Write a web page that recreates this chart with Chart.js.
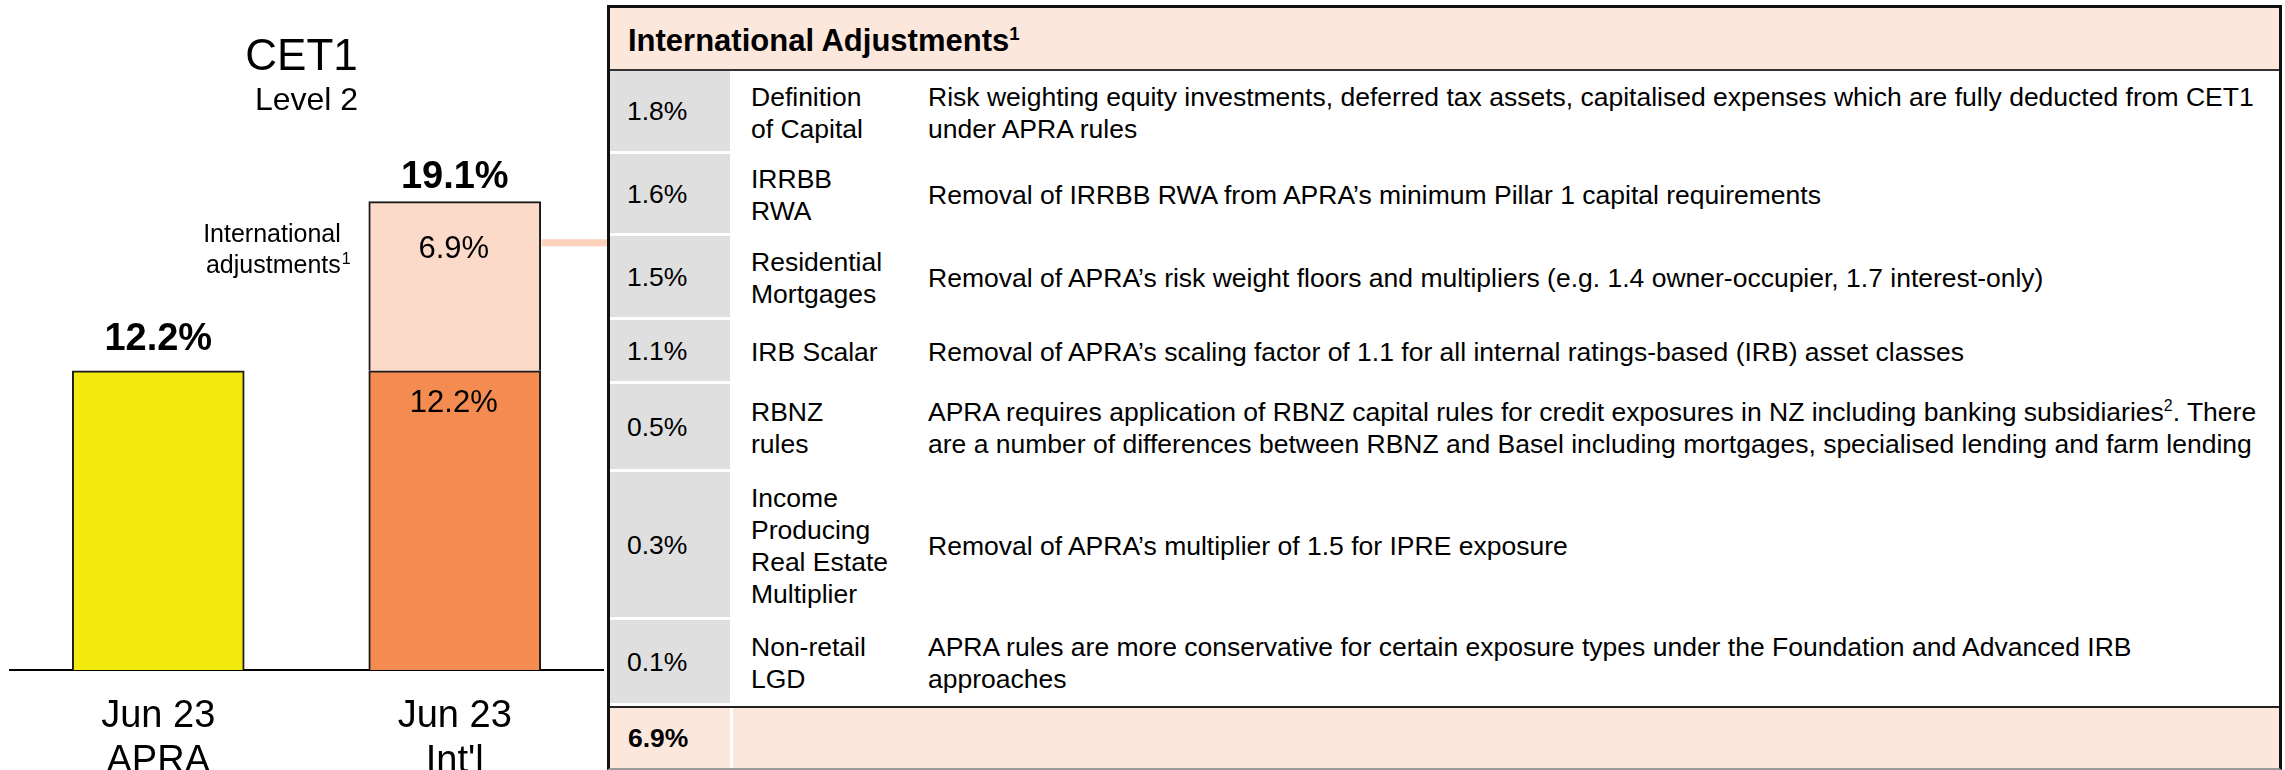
<!DOCTYPE html>
<html lang="en">
<head>
    <meta charset="UTF-8">
    <title>CET1 Level 2 - International Adjustments</title>
    <script src="https://cdn.jsdelivr.net/npm/chart.js"></script>
    <style>
        body {
            margin: 0;
            width: 2285px;
            height: 770px;
            overflow: hidden;
            background: #fff;
            color: #000;
            font-family: "Liberation Sans", Arial, sans-serif;
        }

        /* left: the stacked bars */
        .chart-box {
            position: absolute;
            left: 0;
            top: 0;
            width: 607px;
            height: 770px;
        }

        /* right: adjustments table */
        .adj-table {
            position: absolute;
            left: 607px;
            top: 5px;
            width: 1675px;
            height: 765px;
            box-sizing: border-box;
            border: 3px solid #111;
            border-bottom: 2px solid #999;
        }

        .adj-head {
            height: 63px;
            box-sizing: border-box;
            padding: 5px 0 0 18px;
            line-height: 56px;
            background: #FCE7DC;
            border-bottom: 2px solid #333;
            font-weight: bold;
            font-size: 31px;
        }

        .adj-head sup, .adj-row sup {
            font-size: 0.6em;
            line-height: 0;
        }

        .adj-row {
            display: flex;
            font-size: 26.5px;
            line-height: 32px;
        }

        .adj-row .pct {
            width: 120px;
            box-sizing: border-box;
            padding-left: 17px;
            background: #DFDFDF;
            border-bottom: 3px solid #fff;
            display: flex;
            align-items: center;
        }

        .adj-row:last-of-type .pct {
            border-bottom: none;
        }

        .adj-row .name {
            width: 198px;
            box-sizing: border-box;
            padding-left: 21px;
            display: flex;
            align-items: center;
        }

        .adj-row .note {
            flex: 1;
            display: flex;
            align-items: center;
            white-space: nowrap;
        }

        .adj-total {
            height: 62px;
            box-sizing: border-box;
            border-top: 2px solid #222;
            background: #FCE7DC;
            display: flex;
            font-size: 26.5px;
            font-weight: bold;
        }

        .adj-total .pct {
            width: 123px;
            box-sizing: border-box;
            padding-left: 18px;
            border-right: 3px solid #fff;
            display: flex;
            align-items: center;
        }
    </style>
</head>
<body>

    <div class="chart-box">
        <canvas id="cetChart" width="607" height="770"></canvas>
    </div>

    <div class="adj-table" id="adjTable">
        <div class="adj-head">International Adjustments<sup>1</sup></div>
    </div>

    <script>
        // bar chart data
        const categories = [['Jun 23', 'APRA'], ['Jun 23', "Int'l"]];
        const baseCET1 = [12.2, 12.2];
        const intlAdjust = [null, 6.9];
        const yMax = 25;

        // table data
        const adjPct = [1.8, 1.6, 1.5, 1.1, 0.5, 0.3, 0.1];
        const adjNames = [
            ['Definition', 'of Capital'],
            ['IRRBB', 'RWA'],
            ['Residential', 'Mortgages'],
            ['IRB Scalar'],
            ['RBNZ', 'rules'],
            ['Income', 'Producing', 'Real Estate', 'Multiplier'],
            ['Non-retail', 'LGD']
        ];
        const adjNotes = [
            ['Risk weighting equity investments, deferred tax assets, capitalised expenses which are fully deducted from CET1', 'under APRA rules'],
            ['Removal of IRRBB RWA from APRA\u2019s minimum Pillar 1 capital requirements'],
            ['Removal of APRA\u2019s risk weight floors and multipliers (e.g. 1.4 owner-occupier, 1.7 interest-only)'],
            ['Removal of APRA\u2019s scaling factor of 1.1 for all internal ratings-based (IRB) asset classes'],
            ['APRA requires application of RBNZ capital rules for credit exposures in NZ including banking subsidiaries^2. There', 'are a number of differences between RBNZ and Basel including mortgages, specialised lending and farm lending'],
            ['Removal of APRA\u2019s multiplier of 1.5 for IPRE exposure'],
            ['APRA rules are more conservative for certain exposure types under the Foundation and Advanced IRB', 'approaches']
        ];

        // row heights of the table body, px
        const rowHeights = [83, 82, 84, 64, 88, 148, 86];

        // ---- table ----
        function addLines(el, lines) {
            lines.forEach((line, i) => {
                if (i > 0) el.appendChild(document.createElement('br'));
                const parts = line.split('^');
                el.appendChild(document.createTextNode(parts[0]));
                if (parts.length > 1) {
                    const sup = document.createElement('sup');
                    sup.textContent = parts[1][0];
                    el.appendChild(sup);
                    el.appendChild(document.createTextNode(parts[1].slice(1)));
                }
            });
        }

        const table = document.getElementById('adjTable');
        adjPct.forEach((v, i) => {
            const row = document.createElement('div');
            row.className = 'adj-row';
            row.style.height = rowHeights[i] + 'px';

            const pct = document.createElement('div');
            pct.className = 'pct';
            pct.textContent = v.toFixed(1) + '%';

            const name = document.createElement('div');
            name.className = 'name';
            const nameTxt = document.createElement('div');
            addLines(nameTxt, adjNames[i]);
            name.appendChild(nameTxt);

            const note = document.createElement('div');
            note.className = 'note';
            const noteTxt = document.createElement('div');
            addLines(noteTxt, adjNotes[i]);
            note.appendChild(noteTxt);

            row.append(pct, name, note);
            table.appendChild(row);
        });

        const total = document.createElement('div');
        total.className = 'adj-total';
        const totalPct = document.createElement('div');
        totalPct.className = 'pct';
        totalPct.textContent = adjPct.reduce((a, b) => a + b, 0).toFixed(1) + '%';
        total.appendChild(totalPct);
        table.appendChild(total);

        // ---- chart ----
        const FONT = '"Liberation Sans", Arial, sans-serif';
        const totalGap = [21, 14];        // space between bar top and total label
        const insideOffset = [41, 56];    // baseline below segment top, per dataset

        const labelsPlugin = {
            id: 'cetLabels',
            afterDraw(chart) {
                const { ctx, chartArea, scales: { x, y } } = chart;
                const mid = (chartArea.left + chartArea.right) / 2;
                ctx.save();
                ctx.fillStyle = '#000';
                ctx.textAlign = 'center';
                ctx.textBaseline = 'alphabetic';

                ctx.font = '44px ' + FONT;
                ctx.fillText('CET1', mid - 5, 70);
                ctx.font = '32px ' + FONT;
                ctx.fillText('Level 2', mid, 110);

                categories.forEach((cat, i) => {
                    const bx = x.getPixelForValue(i);
                    const sum = baseCET1[i] + (intlAdjust[i] || 0);
                    ctx.font = 'bold 38px ' + FONT;
                    ctx.fillText(sum.toFixed(1) + '%', bx, y.getPixelForValue(sum) - totalGap[i]);

                    ctx.font = '38px ' + FONT;
                    cat.forEach((line, k) => ctx.fillText(line, bx, chartArea.bottom + 57 + k * 45));
                });

                // values inside the stacked bar
                const stack = [baseCET1, intlAdjust];
                ctx.font = '31px ' + FONT;
                stack.forEach((vals, d) => {
                    const bar = chart.getDatasetMeta(d).data[1];
                    if (vals[1] == null) return;
                    ctx.fillText(vals[1].toFixed(1) + '%', bar.x - 1, bar.y + insideOffset[d]);
                });

                // call-out for the adjustment segment
                const adj = chart.getDatasetMeta(1).data[1];
                const left = adj.x - adj.width / 2;
                ctx.textAlign = 'right';
                ctx.font = '25px ' + FONT;
                ctx.fillText('International', left - 28, adj.y + 40);
                ctx.fillText('adjustments', left - 28, adj.y + 71);
                ctx.textAlign = 'left';
                ctx.font = '16px ' + FONT;
                ctx.fillText('1', left - 27, adj.y + 62);

                ctx.strokeStyle = '#FCD2BC';
                ctx.lineWidth = 7;
                ctx.beginPath();
                ctx.moveTo(adj.x + adj.width / 2 + 1, adj.y + 41);
                ctx.lineTo(chart.width, adj.y + 41);
                ctx.stroke();
                ctx.restore();
            }
        };

        new Chart(document.getElementById('cetChart'), {
            type: 'bar',
            data: {
                labels: categories,
                datasets: [{
                    label: 'CET1',
                    data: baseCET1,
                    backgroundColor: ['#F2E90F', '#F48C52'],
                    borderColor: '#1a1a1a',
                    borderWidth: 2,
                    barThickness: 172
                }, {
                    label: 'International adjustments',
                    data: intlAdjust,
                    backgroundColor: '#FCDACA',
                    borderColor: '#1a1a1a',
                    borderWidth: 2,
                    barThickness: 172
                }]
            },
            options: {
                responsive: false,
                animation: false,
                layout: { padding: { left: 10, right: 4, top: 57, bottom: 100 } },
                plugins: {
                    legend: { display: false },
                    tooltip: { enabled: false }
                },
                scales: {
                    x: {
                        stacked: true,
                        grid: { display: false, drawTicks: false },
                        border: { display: true, color: '#000', width: 2 },
                        ticks: { display: false }
                    },
                    y: {
                        stacked: true,
                        display: false,
                        min: 0,
                        max: yMax
                    }
                }
            },
            plugins: [labelsPlugin]
        });
    </script>

</body>
</html>
